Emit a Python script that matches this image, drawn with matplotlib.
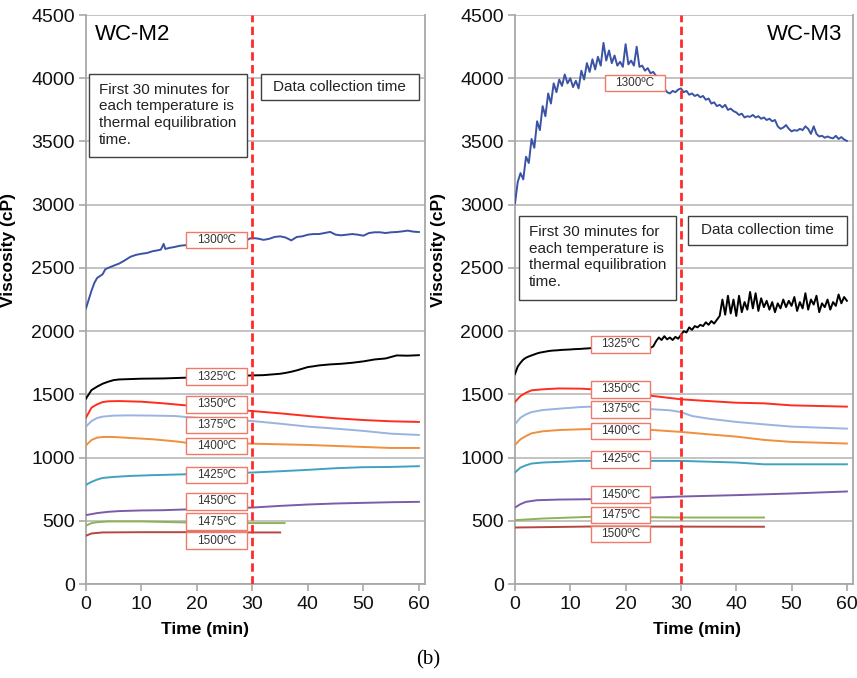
# Viscosity vs time for WC-M2 and WC-M3 at several temperatures

import matplotlib
matplotlib.use('Agg')
import matplotlib.pyplot as plt
from matplotlib.patches import Rectangle

plt.rcParams['font.family'] = ['Liberation Sans', 'DejaVu Sans']

TEMPS = ['1300', '1325', '1350', '1375', '1400', '1425', '1450', '1475', '1500']
COLORS = ['#3A53A4', '#000000', '#FF2D1E', '#99B4E0', '#F0903C',
          '#3FA3C0', '#7B5CA8', '#8DB356', '#B5473F']

# ---- WC-M2 (left) ----
m2_t_1300 = [0, 0.5, 1, 1.5, 2, 2.5, 3, 3.5, 4, 5, 6, 7, 8, 9, 10, 11, 12, 13, 13.5, 14,
             14.3, 15, 16, 17, 18, 29, 29.5, 30, 31, 32, 33, 34, 35, 36, 37, 38, 39, 40,
             41, 42, 43, 44, 45, 46, 47, 48, 49, 50, 51, 52, 53, 54, 55, 56, 57, 58, 59, 60]
m2_v_1300 = [2180, 2250, 2320, 2380, 2420, 2435, 2450, 2490, 2500, 2518, 2535, 2560, 2588,
             2603, 2612, 2618, 2632, 2640, 2645, 2690, 2650, 2658, 2666, 2676, 2680, 2720,
             2732, 2737, 2732, 2722, 2730, 2745, 2750, 2740, 2718, 2745, 2750, 2763, 2768,
             2768, 2776, 2785, 2763, 2758, 2763, 2768, 2763, 2755, 2776, 2782, 2782, 2776,
             2782, 2784, 2789, 2795, 2787, 2784]

m2_t_1325 = [0, 0.5, 1, 2, 3, 4, 5, 6, 8, 10, 14, 18, 30, 32, 35, 36, 37, 38, 39, 40, 41,
             42, 44, 46, 48, 50, 52, 54, 56, 58, 60]
m2_v_1325 = [1466, 1500, 1534, 1561, 1584, 1600, 1613, 1618, 1621, 1624, 1626, 1632, 1650,
             1652, 1663, 1670, 1679, 1690, 1703, 1716, 1722, 1729, 1737, 1742, 1750, 1761,
             1776, 1784, 1808, 1806, 1810]

m2_t_1350 = [0, 1, 2, 3, 4, 6, 10, 14, 18, 30, 35, 40, 45, 50, 55, 60]
m2_v_1350 = [1316, 1395, 1421, 1439, 1445, 1447, 1442, 1429, 1413, 1368, 1350, 1329, 1311,
             1297, 1287, 1282]

m2_t_1375 = [0, 1, 2, 3, 5, 8, 12, 16, 18, 30, 35, 40, 45, 50, 55, 60]
m2_v_1375 = [1245, 1289, 1313, 1324, 1332, 1334, 1332, 1329, 1321, 1289, 1268, 1245, 1229,
             1211, 1189, 1179]

m2_t_1400 = [0, 1, 2, 3, 5, 8, 12, 16, 18, 30, 35, 40, 45, 50, 55, 60]
m2_v_1400 = [1097, 1139, 1158, 1163, 1163, 1155, 1145, 1129, 1118, 1110, 1105, 1100, 1092,
             1084, 1076, 1076]

m2_t_1425 = [0, 1, 2, 3, 5, 8, 12, 18, 30, 35, 40, 45, 50, 55, 60]
m2_v_1425 = [784, 808, 826, 839, 847, 855, 861, 868, 882, 892, 903, 916, 924, 926, 932]

m2_t_1450 = [0, 2, 4, 6, 10, 14, 18, 30, 35, 40, 45, 50, 55, 60]
m2_v_1450 = [545, 561, 571, 577, 582, 584, 590, 605, 618, 629, 637, 642, 647, 650]

m2_t_1475 = [0, 1, 2, 4, 10, 18, 30, 35.8]
m2_v_1475 = [461, 482, 489, 495, 495, 487, 482, 482]

m2_t_1500 = [0, 1, 3, 10, 18, 30, 35]
m2_v_1500 = [382, 400, 408, 410, 410, 408, 408]

# label box centres (value axis) for WC-M2
m2_label_y = [2720, 1640, 1420, 1258, 1092, 862, 653, 494, 344]

# ---- WC-M3 (right) ----
m3_t_1300 = [i * 0.5 for i in range(121)]
m3_v_1300 = [3010, 3180, 3250, 3200, 3380, 3330, 3520, 3450, 3660, 3590,
             3780, 3700, 3880, 3800, 3960, 3890, 3990, 3940, 4030, 3960,
             4000, 3930, 3980, 3920, 4060, 3990, 4120, 4050, 4150, 4070,
             4170, 4100, 4280, 4140, 4220, 4120, 4180, 4100, 4130, 4090,
             4270, 4110, 4140, 4100, 4250, 4090, 4100, 4060, 4080, 4040,
             4050, 4020, 4000, 3960, 3920, 3890, 3880, 3900, 3890, 3910,
             3920, 3890, 3900, 3870, 3880, 3860, 3870, 3850, 3860, 3830,
             3840, 3800, 3810, 3780, 3790, 3770, 3790, 3750, 3760, 3740,
             3730, 3710, 3720, 3690, 3700, 3695, 3710, 3690, 3700, 3680,
             3690, 3670, 3680, 3660, 3670, 3620, 3600, 3610, 3630, 3600,
             3580, 3590, 3585, 3600, 3590, 3620, 3600, 3560, 3620, 3560,
             3540, 3545, 3530, 3540, 3530, 3525, 3545, 3520, 3535, 3515,
             3505]

m3_t_1325 = [i * 0.5 for i in range(121)]
m3_v_1325 = [1660, 1720, 1750, 1775, 1790, 1800, 1808, 1816, 1824, 1830,
             1834, 1838, 1842, 1845, 1847, 1848, 1850, 1852, 1853, 1854,
             1855, 1857, 1858, 1859, 1860, 1862, 1863, 1865, 1866, 1867,
             1868, 1868, 1868, 1868, 1868, 1868, 1868, 1868, 1868, 1868,
             1868, 1868, 1868, 1868, 1868, 1868, 1868, 1868, 1868, 1868,
             1880, 1920, 1950, 1930, 1960, 1935, 1950, 1930, 1955, 1940,
             1970, 2000, 1990, 2030, 2010, 2040, 2030, 2050, 2040, 2070,
             2050, 2080, 2060, 2090, 2120, 2250, 2130, 2280, 2140, 2250,
             2120, 2280, 2150, 2230, 2170, 2310, 2180, 2300, 2160, 2260,
             2190, 2240, 2170, 2230, 2150, 2220, 2180, 2250, 2190, 2240,
             2200, 2270, 2160, 2230, 2180, 2300, 2170, 2250, 2210, 2280,
             2150, 2220, 2190, 2250, 2170, 2230, 2200, 2290, 2220, 2270,
             2240]

m3_t_1350 = [0, 1, 2, 3, 5, 8, 12, 14, 25, 30, 35, 40, 45, 50, 55, 60]
m3_v_1350 = [1440, 1487, 1513, 1532, 1540, 1547, 1545, 1540, 1487, 1461, 1447, 1434, 1429,
             1413, 1408, 1403]

m3_t_1375 = [0, 1, 2, 3, 5, 8, 12, 14, 25, 28, 30, 32, 35, 40, 45, 50, 55, 60]
m3_v_1375 = [1263, 1316, 1342, 1360, 1376, 1387, 1400, 1403, 1382, 1374, 1360, 1329, 1308,
             1282, 1263, 1245, 1237, 1229]

m3_t_1400 = [0, 1, 2, 3, 5, 8, 12, 14, 25, 30, 35, 40, 45, 50, 55, 60]
m3_v_1400 = [1100, 1145, 1171, 1192, 1208, 1218, 1224, 1226, 1218, 1203, 1184, 1166, 1140,
             1124, 1118, 1111]

m3_t_1425 = [0, 1, 2, 3, 5, 8, 12, 30, 40, 45, 50, 60]
m3_v_1425 = [882, 921, 939, 953, 961, 966, 974, 974, 961, 947, 947, 947]

m3_t_1450 = [0, 1, 2, 4, 8, 14, 25, 30, 40, 50, 60]
m3_v_1450 = [605, 632, 650, 663, 668, 671, 684, 692, 703, 716, 732]

m3_t_1475 = [0, 5, 14, 30, 45]
m3_v_1475 = [505, 518, 532, 526, 526]

m3_t_1500 = [0, 14, 45]
m3_v_1500 = [447, 455, 453]

m3_label_y = [3963, 1895, 1539, 1381, 1210, 985, 708, 546, 396]

M2_SERIES = [(m2_t_1300, m2_v_1300), (m2_t_1325, m2_v_1325), (m2_t_1350, m2_v_1350),
             (m2_t_1375, m2_v_1375), (m2_t_1400, m2_v_1400), (m2_t_1425, m2_v_1425),
             (m2_t_1450, m2_v_1450), (m2_t_1475, m2_v_1475), (m2_t_1500, m2_v_1500)]
M3_SERIES = [(m3_t_1300, m3_v_1300), (m3_t_1325, m3_v_1325), (m3_t_1350, m3_v_1350),
             (m3_t_1375, m3_v_1375), (m3_t_1400, m3_v_1400), (m3_t_1425, m3_v_1425),
             (m3_t_1450, m3_v_1450), (m3_t_1475, m3_v_1475), (m3_t_1500, m3_v_1500)]

NOTE_TEXT = 'First 30 minutes for\neach temperature is\nthermal equilibration\ntime.'
DATA_TEXT = 'Data collection time'
GRID = '#BEBEBE'


def note_box(ax, x0, x1, y0, y1, text, left_text):
    ax.add_patch(Rectangle((x0, y0), x1 - x0, y1 - y0, facecolor='white',
                           edgecolor='#404040', lw=1.0, zorder=5))
    if left_text:
        ax.text(x0 + 1.8, y1 - 70, text, ha='left', va='top', fontsize=11,
                linespacing=1.25, color='#222222', zorder=6)
    else:
        ax.text((x0 + x1) / 2, (y0 + y1) / 2, text, ha='center', va='center',
                fontsize=11, color='#222222', zorder=6)


def draw_panel(ax, series, label_y, label_x0, label_x1, title, title_right):
    for (t, v), c in zip(series, COLORS):
        ax.plot(t, v, color=c, lw=1.4, zorder=3)
    # temperature labels
    for i, (temp, y) in enumerate(zip(TEMPS, label_y)):
        x0, x1 = label_x0, label_x1
        if i == 0 and title_right:
            x0, x1 = 16.3, 27.1
        ax.add_patch(Rectangle((x0, y - 65), x1 - x0, 130, facecolor='white',
                               edgecolor='#F07A6A', lw=1.0, zorder=4))
        ax.text((x0 + x1) / 2, y, temp + '\u00baC', ha='center', va='center',
                fontsize=8.5, color='#333333', zorder=5)
    ax.axvline(30, color='#FF2A2A', lw=2.0, ls=(0, (3, 1.6)), zorder=7)

    ax.set_xlim(0, 61.1)
    ax.set_ylim(0, 4500)
    ax.set_xticks(range(0, 61, 10))
    ax.set_yticks(range(0, 4501, 500))
    ax.yaxis.grid(True, color=GRID, lw=1.3)
    ax.set_axisbelow(True)
    ax.spines['top'].set_visible(False)
    for s in ['left', 'right', 'bottom']:
        ax.spines[s].set_color('#A8A8A8')
        ax.spines[s].set_linewidth(1.3)
    ax.tick_params(axis='both', labelsize=14, length=5, width=1.2,
                   color='#A8A8A8', labelcolor='#111111')
    ax.tick_params(axis='y', pad=3)
    ax.set_xlabel('Time (min)', fontsize=12.5, fontweight='bold')
    ax.set_ylabel('Viscosity (cP)', fontsize=12.5, fontweight='bold')
    ax.yaxis.set_label_coords(-0.205, 0.587)
    if title_right:
        ax.text(0.967, 0.965, title, transform=ax.transAxes, ha='right',
                va='center', fontsize=16)
    else:
        ax.text(0.027, 0.965, title, transform=ax.transAxes, ha='left',
                va='center', fontsize=16)


fig = plt.figure(figsize=(8.57, 6.78), dpi=100)
ax1 = fig.add_axes([0.1003, 0.1386, 0.3956, 0.8392])
ax2 = fig.add_axes([0.6009, 0.1386, 0.3944, 0.8392])

draw_panel(ax1, M2_SERIES, m2_label_y, 18.0, 29.0, 'WC-M2', False)
draw_panel(ax2, M3_SERIES, m3_label_y, 13.7, 24.4, 'WC-M3', True)

# x labels sit below the tick numbers, a little left of centre
ax1.xaxis.set_label_coords(0.351, -0.066)
ax2.xaxis.set_label_coords(0.54, -0.066)

note_box(ax1, 0.5, 29.0, 3378, 4035, NOTE_TEXT, True)
note_box(ax1, 31.5, 60.0, 3829, 4035, DATA_TEXT, False)
note_box(ax2, 0.7, 29.1, 2247, 2911, NOTE_TEXT, True)
note_box(ax2, 31.3, 60.0, 2682, 2911, DATA_TEXT, False)

fig.text(0.5, 0.027, '(b)', ha='center', va='center', fontsize=15,
         family=['Liberation Serif', 'DejaVu Serif'])

fig.savefig('out.png', dpi=100)
